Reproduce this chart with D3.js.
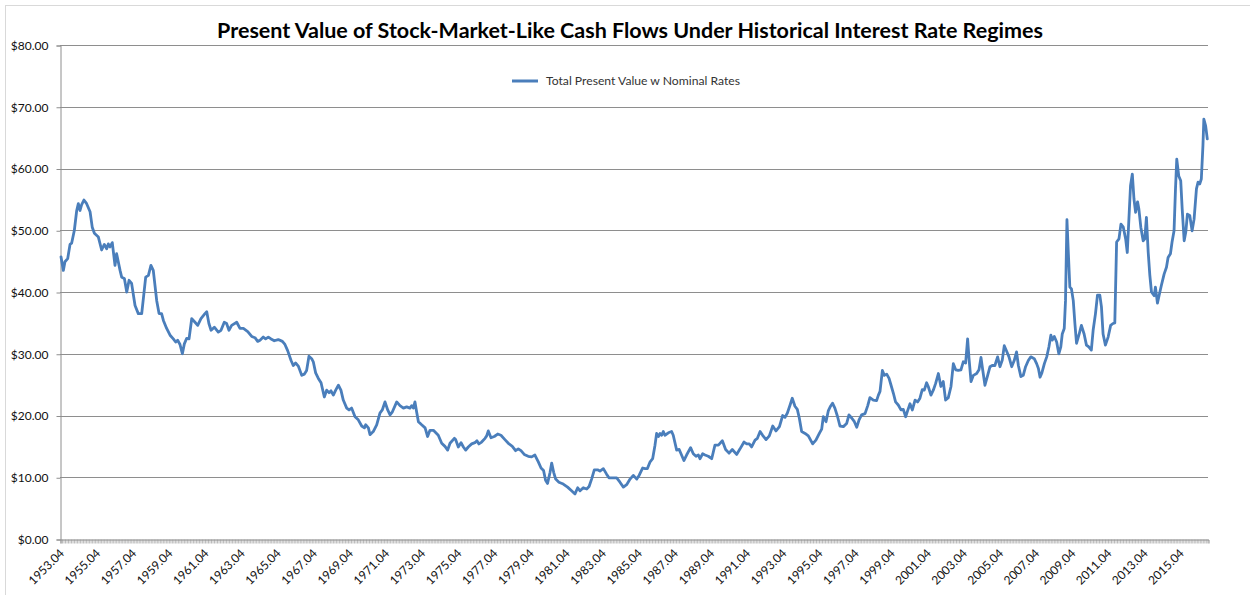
<!DOCTYPE html>
<html><head><meta charset="utf-8">
<script src="https://cdn.jsdelivr.net/npm/d3@7/dist/d3.min.js"></script>
<style>
body{margin:0;background:#fff;}
svg{display:block;font-family:Lato,"Open Sans","Liberation Sans",sans-serif;}
</style>
</head><body>
<svg id="chart" width="1250" height="595"></svg>
<script>
// ---- data ----
const chartTitle = "Present Value of Stock-Market-Like Cash Flows Under Historical Interest Rate Regimes";
const seriesName = "Total Present Value w Nominal Rates";

const dates = [
1953.25,1953.38,1953.47,1953.62,1953.75,1953.84,1953.99,1954.12,1954.21,1954.30,
1954.39,1954.52,1954.67,1954.86,1954.98,1955.10,1955.32,1955.50,1955.65,1955.78,
1955.87,1955.96,1956.09,1956.24,1956.33,1956.52,1956.61,1956.76,1956.89,1957.02,
1957.16,1957.35,1957.53,1957.72,1957.94,1958.09,1958.23,1958.36,1958.55,1958.68,
1958.82,1958.92,1959.10,1959.29,1959.47,1959.60,1959.71,1959.84,1959.97,1960.08,
1960.21,1960.34,1960.49,1960.67,1960.82,1961.00,1961.22,1961.32,1961.44,1961.56,
1961.74,1961.96,1962.11,1962.29,1962.42,1962.55,1962.70,1962.98,1963.16,1963.35,
1963.59,1963.81,1963.99,1964.14,1964.27,1964.45,1964.58,1964.73,1964.88,1965.06,
1965.28,1965.51,1965.65,1965.80,1965.99,1966.11,1966.24,1966.39,1966.58,1966.72,
1966.85,1966.98,1967.13,1967.22,1967.35,1967.50,1967.65,1967.83,1967.96,1968.09,
1968.20,1968.33,1968.46,1968.61,1968.75,1968.88,1969.07,1969.20,1969.34,1969.53,
1969.71,1969.90,1970.05,1970.12,1970.27,1970.36,1970.54,1970.73,1970.91,1971.04,
1971.19,1971.34,1971.47,1971.60,1971.84,1972.02,1972.21,1972.39,1972.57,1972.67,
1972.76,1972.85,1972.94,1973.04,1973.22,1973.41,1973.55,1973.68,1973.87,
1974.14,1974.33,1974.51,1974.66,1974.79,1975.03,1975.10,1975.25,1975.40,1975.53,
1975.66,1975.80,1975.99,1976.17,1976.28,1976.39,1976.54,1976.73,1976.82,1976.91,
1977.06,1977.24,1977.43,1977.61,1977.83,1978.02,1978.24,1978.42,1978.57,1978.72,
1978.90,1979.12,1979.31,1979.49,1979.68,1979.83,1979.97,1980.08,1980.19,1980.33,
1980.42,1980.53,1980.64,1980.82,1981.06,1981.30,1981.52,1981.71,1981.86,1981.99,
1982.17,1982.36,1982.49,1982.63,1982.78,1982.96,1983.09,1983.28,1983.46,1983.59,
1983.83,1984.02,1984.20,1984.39,1984.57,1984.76,1984.94,1985.13,1985.26,
1985.46,1985.59,1985.72,1985.87,1986.01,1986.14,1986.23,1986.33,1986.42,1986.51,
1986.60,1986.69,1986.88,1987.06,1987.15,1987.34,1987.48,1987.61,1987.74,1987.89,
1988.11,1988.26,1988.41,1988.54,1988.63,1988.78,1988.91,1989.09,1989.28,1989.46,
1989.65,1989.87,1990.05,1990.24,1990.42,1990.66,1990.85,1991.07,1991.22,1991.36,
1991.49,1991.68,1991.81,1991.96,1992.10,1992.29,1992.47,1992.66,1992.84,1993.03,
1993.21,1993.34,1993.47,1993.62,1993.74,1993.89,1994.02,1994.13,1994.26,1994.45,
1994.63,1994.87,1995.05,1995.24,1995.37,1995.46,1995.61,1995.74,1995.86,1995.97,
1996.10,
1996.25,1996.38,1996.57,1996.75,1996.88,1997.03,1997.18,1997.31,1997.44,1997.58,
1997.77,1997.92,1998.04,1998.23,1998.41,1998.51,1998.60,1998.73,1998.84,1998.97,
1999.10,1999.21,1999.34,1999.46,1999.61,1999.76,1999.89,2000.02,2000.13,2000.26,
2000.39,2000.54,2000.68,2000.81,2000.94,2001.05,2001.18,2001.27,2001.42,2001.55,
2001.68,2001.83,2001.97,2002.10,2002.23,2002.38,2002.53,2002.66,2002.79,2002.93,
2003.08,2003.21,2003.34,2003.45,2003.52,2003.64,2003.77,2003.95,2004.08,2004.19,
2004.26,2004.41,2004.56,2004.69,2004.81,2004.96,2005.11,2005.24,2005.37,2005.48,
2005.61,2005.74,2005.89,2006.03,2006.16,2006.26,2006.40,2006.53,2006.66,2006.81,
2006.95,
2007.14,2007.27,2007.37,2007.46,2007.55,2007.70,2007.83,2007.95,2008.06,2008.14,
2008.25,2008.38,2008.50,2008.61,2008.69,2008.80,2008.87,2008.95,2009.02,2009.11,
2009.20,2009.30,2009.39,2009.48,2009.61,2009.75,2009.90,2010.03,2010.16,2010.30,
2010.40,2010.53,2010.64,2010.77,2010.86,2010.95,2011.08,2011.23,2011.37,2011.50,
2011.60,2011.70,2011.83,2011.94,2012.07,2012.20,2012.29,2012.38,2012.47,2012.57,
2012.66,2012.75,2012.86,2012.93,2013.04,2013.17,2013.26,2013.35,2013.45,2013.54,
2013.63,2013.78,2013.85,2013.96,2014.05,2014.18,2014.33,2014.46,2014.55,2014.68,
2014.77,2014.88,2014.96,2015.03,2015.14,2015.25,2015.33,2015.44,2015.53,2015.62,
2015.75,2015.88,2015.99,2016.12,2016.21,2016.30,2016.39,2016.48,2016.53,2016.63,
2016.72
];

const presentValues = [
45.7,43.5,44.9,45.4,47.7,47.9,50.0,53.2,54.3,53.2,
54.1,54.9,54.3,53.0,50.5,49.5,48.9,46.8,47.7,47.0,
47.8,47.3,48.0,44.3,46.2,43.5,42.4,42.2,40.0,41.9,
41.4,37.8,36.5,36.5,42.4,42.7,44.3,43.5,38.6,36.5,
36.5,35.4,34.1,33.0,32.4,31.9,32.2,31.5,30.0,31.6,
32.5,32.4,35.7,35.1,34.6,35.7,36.5,36.8,34.9,33.8,
34.3,33.5,33.8,35.1,34.9,33.8,34.6,35.1,34.1,34.1,
33.6,32.8,32.6,32.0,32.2,32.7,32.4,32.7,32.4,32.1,
32.3,32.0,31.5,30.5,28.9,28.1,28.5,28.0,26.5,26.7,
27.3,29.6,29.2,28.7,26.9,26.0,25.3,23.0,24.1,23.7,
24.0,23.3,24.1,24.9,24.1,22.5,21.2,20.9,21.2,19.8,
19.3,18.3,18.0,18.5,18.0,16.9,17.4,18.5,20.4,20.9,
22.2,20.9,20.1,20.6,22.2,21.6,21.2,21.4,21.2,21.6,
21.2,22.2,20.6,19.0,18.5,18.0,16.6,17.6,17.6,
16.8,15.5,15.0,14.4,15.5,16.3,16.1,14.9,15.6,14.9,
14.4,14.9,15.4,15.6,15.9,15.4,15.7,16.3,16.7,17.5,
16.4,16.6,17.0,16.8,16.1,15.5,15.0,14.3,14.6,14.3,
13.7,13.4,13.3,13.6,12.5,11.5,11.1,9.5,9.0,10.8,
12.3,10.8,9.7,9.2,8.9,8.4,7.8,7.3,8.3,7.8,
8.3,8.1,8.5,9.7,11.2,11.2,11.0,11.4,10.5,9.9,
9.9,9.9,9.2,8.4,8.8,9.7,10.3,9.7,10.3,
11.5,11.4,11.4,12.5,13.0,15.2,17.1,16.6,17.1,16.8,
17.4,16.8,17.2,17.4,16.8,14.4,14.5,13.6,12.7,13.6,
14.8,13.8,13.4,13.6,13.0,13.8,13.6,13.4,13.0,15.2,
15.2,15.9,14.5,13.9,14.5,13.7,14.6,15.7,15.4,15.4,
14.9,16.0,16.3,17.4,16.8,16.1,16.7,18.3,17.5,18.2,
20.0,19.7,20.4,21.7,22.8,21.5,21.0,19.6,17.4,17.1,
16.7,15.4,16.0,17.1,17.8,19.8,19.0,20.8,21.5,22.0,
21.2,
19.8,18.3,18.2,18.7,20.1,19.6,19.0,18.1,19.3,20.1,
20.3,21.6,22.9,22.5,22.4,23.3,23.9,27.3,26.5,26.7,
26.0,24.9,23.6,22.2,21.7,20.9,21.0,19.8,20.8,21.9,
20.9,22.5,22.2,22.8,24.2,24.1,25.3,24.7,23.3,24.1,
25.2,26.8,24.7,25.5,22.5,22.9,24.7,28.4,27.4,27.3,
27.4,28.7,28.5,32.4,29.5,25.5,26.5,26.8,27.4,29.4,
27.9,24.9,26.5,27.9,28.1,28.1,29.5,27.9,29.0,31.3,
30.4,29.5,27.9,28.9,30.3,28.1,26.3,26.5,27.9,28.9,
29.5,
29.2,28.4,27.6,26.2,26.8,28.4,29.5,31.1,33.0,32.2,
32.8,31.9,30.0,31.1,33.2,34.1,38.6,51.7,46.8,40.8,
40.5,38.6,34.9,31.7,33.0,34.6,33.2,31.4,31.1,30.6,
33.8,36.5,39.5,39.5,37.6,33.2,31.4,32.7,34.6,34.9,
35.0,48.1,48.6,51.0,50.5,48.6,46.4,51.8,57.2,59.1,
55.1,52.9,54.6,53.5,50.5,48.3,48.6,52.1,46.4,42.7,
40.0,39.4,40.8,38.2,39.4,41.1,42.9,44.0,45.6,46.2,
48.1,49.9,56.7,61.5,58.8,58.0,53.5,48.3,49.7,52.6,
52.4,49.9,51.8,56.7,57.8,57.5,58.3,63.7,68.0,66.9,
64.8
];

const xTickLabels = ["1953.04","1955.04","1957.04","1959.04","1961.04","1963.04","1965.04",
  "1967.04","1969.04","1971.04","1973.04","1975.04","1977.04","1979.04","1981.04","1983.04",
  "1985.04","1987.04","1989.04","1991.04","1993.04","1995.04","1997.04","1999.04","2001.04",
  "2003.04","2005.04","2007.04","2009.04","2011.04","2013.04","2015.04"];
const yTickValues = [0,10,20,30,40,50,60,70,80];

// ---- drawing ----
const svg = d3.select("#chart");
const plot = {left:60, right:1208, top:45, bottom:539};
const x = d3.scaleLinear().domain([1953.195, 2016.76]).range([plot.left, plot.right]);
const y = d3.scaleLinear().domain([0, 80]).range([plot.bottom, plot.top]);

// outer chart frame (only top and left edges visible in the crop)
svg.append("rect").attr("x",5.5).attr("y",5.5).attr("width",1300).attr("height",700)
  .attr("fill","none").attr("stroke","#d9d9d9").attr("stroke-width",1);

// horizontal gridlines
svg.append("g").selectAll("line").data(yTickValues.filter(d=>d>0)).join("line")
  .attr("x1",plot.left).attr("x2",plot.right)
  .attr("y1",d=>Math.round(y(d))+0.5).attr("y2",d=>Math.round(y(d))+0.5)
  .attr("stroke","#8e8e8e").attr("stroke-width",1);

// y axis
const yAxis = svg.append("g").attr("transform",`translate(${plot.left+0.5},0.5)`)
  .call(d3.axisLeft(y).tickValues(yTickValues).tickSize(4).tickPadding(8)
    .tickFormat(d=>"$"+d.toFixed(2)));
yAxis.select(".domain").attr("stroke","#8e8e8e");
yAxis.selectAll(".tick line").attr("stroke","#8e8e8e");
yAxis.selectAll(".tick text").attr("fill","#111").style("font-size","12px")
  .style("font-family","Lato,'Open Sans',sans-serif");

// x axis with monthly tick marks
const monthly = d3.range(0, Math.floor((2016.76-1953.195)*12)+1).map(i=>1953.195 + i/12);
const xAxis = svg.append("g").attr("transform",`translate(0.5,${plot.bottom+0.5})`)
  .call(d3.axisBottom(x).tickValues(monthly).tickSize(4).tickFormat(""));
xAxis.select(".domain").attr("stroke","#8e8e8e");
xAxis.selectAll(".tick line").attr("stroke","#8e8e8e").attr("stroke-width",0.6);

// rotated category labels
const labelPos = s => { const [yr, mo] = s.split("."); return +yr + (+mo - 1)/12; };
svg.append("g").selectAll("text").data(xTickLabels).join("text")
  .attr("transform", d=>`translate(${x(labelPos(d))+4},${plot.bottom+15}) rotate(-45)`)
  .attr("text-anchor","end").attr("fill","#111").style("font-size","12px")
  .text(d=>d);

// series line
const series = d3.zip(dates, presentValues);
svg.append("path").datum(series)
  .attr("d", d3.line().x(d=>x(d[0])).y(d=>y(d[1])))
  .attr("fill","none").attr("stroke","#4a7ebb").attr("stroke-width",2.8)
  .attr("stroke-linejoin","round").attr("stroke-linecap","round");

// legend
svg.append("line").attr("x1",512).attr("x2",538).attr("y1",81).attr("y2",81)
  .attr("stroke","#4a7ebb").attr("stroke-width",3);
const leg = svg.append("text").attr("x",546).attr("y",85).attr("fill","#333")
  .style("font-size","11px").text(seriesName);

// title
const title = svg.append("text").attr("x",630).attr("y",38).attr("text-anchor","middle")
  .attr("fill","#000").style("font-weight","bold").style("font-size","20px").text(chartTitle);

function fitWidth(sel, target){
  const fs = parseFloat(sel.style("font-size"));
  const w = sel.node().getComputedTextLength();
  if (w > 0) sel.style("font-size", (fs*target/w).toFixed(2)+"px");
}
fitWidth(title, 826);
fitWidth(leg, 194);
</script>
</body></html>
